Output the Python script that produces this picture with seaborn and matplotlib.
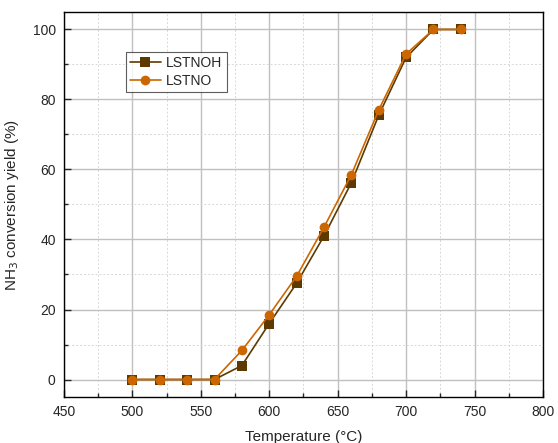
import numpy as np
import pandas as pd
import matplotlib
matplotlib.use('Agg')
import matplotlib.pyplot as plt
import seaborn as sns
from matplotlib.ticker import MultipleLocator

temps = [500, 520, 540, 560, 580, 600, 620, 640, 660, 680, 700, 720, 740]
lstnoh = [0, 0, 0, 0, 4, 16, 27.5, 41, 56.2, 75.5, 92, 100, 100]
lstno = [0, 0, 0, 0, 8.3, 18.5, 29.5, 43.5, 58.5, 77, 93, 100, 100]
series_names = ['LSTNOH', 'LSTNO']
colors = ['#5c3a00', '#cc6600']

df = pd.concat([
    pd.DataFrame({'T': temps, 'yield': lstnoh, 'sample': 'LSTNOH'}),
    pd.DataFrame({'T': temps, 'yield': lstno, 'sample': 'LSTNO'}),
])

sns.set_style('white')
plt.rcParams['font.family'] = ['Liberation Sans', 'DejaVu Sans']

fig = plt.figure(figsize=(5.58, 4.43), dpi=100)
ax = fig.add_axes([0.1147, 0.1038, 0.8583, 0.8692])

sns.lineplot(data=df, x='T', y='yield', hue='sample', style='sample',
             hue_order=series_names, style_order=series_names,
             palette=colors, markers=['s', 'o'], dashes=False,
             markersize=7, linewidth=1.2, markeredgewidth=0, ax=ax)

# orange series on top, as in the original
for ln in ax.lines:
    if ln.get_marker() == 'o':
        ln.set_zorder(3)
    else:
        ln.set_zorder(2.5)

ax.set_xlim(450, 800)
ax.set_ylim(-5, 105)
ax.xaxis.set_major_locator(MultipleLocator(50))
ax.xaxis.set_minor_locator(MultipleLocator(25))
ax.yaxis.set_major_locator(MultipleLocator(20))
ax.yaxis.set_minor_locator(MultipleLocator(10))
ax.grid(which='major', color='#c0c0c0', linestyle='-', linewidth=1.0)
ax.grid(which='minor', color='#d8d8d8', linestyle=(0, (2, 2)), linewidth=0.7)
ax.set_axisbelow(True)
ax.tick_params(which='major', direction='in', length=5, width=1, labelsize=10,
               bottom=True, left=True, top=False, right=False, pad=6)
ax.tick_params(which='minor', direction='in', length=3, width=1,
               bottom=True, left=True, top=False, right=False)
for s in ax.spines.values():
    s.set_color('black')
    s.set_linewidth(1.0)

ax.set_xlabel('Temperature (°C)', fontsize=11, labelpad=8)
ax.set_ylabel('NH$_3$ conversion yield (%)', fontsize=11, labelpad=8)

leg = ax.legend(loc='upper left', bbox_to_anchor=(0.115, 0.915), fontsize=10,
                frameon=True, fancybox=False, edgecolor='#333333',
                handlelength=2.2, borderpad=0.3, labelspacing=0.3,
                handletextpad=0.4)
leg.get_frame().set_linewidth(0.8)

fig.savefig('out.png', dpi=100)
